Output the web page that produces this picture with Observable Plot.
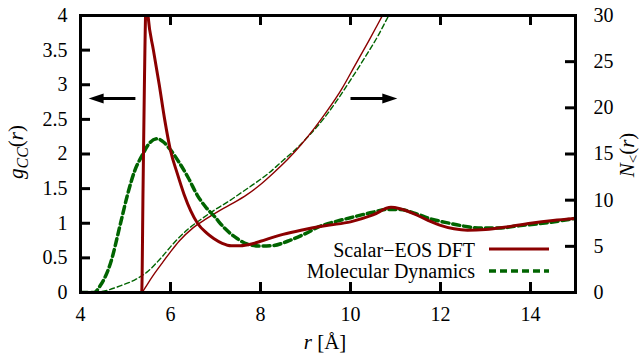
<!DOCTYPE html>
<html><head><meta charset="utf-8">
<script src="https://cdn.jsdelivr.net/npm/d3@7"></script>
<script src="https://cdn.jsdelivr.net/npm/@observablehq/plot@0.6"></script>
<style>
body{margin:0;background:#fff;}
#chart{width:644px;height:356px;}
</style></head><body><div id="chart"></div>
<script>
// ---- data ----
const gDftR = [4, 5.36, 5.39, 5.42, 5.45, 5.47, 5.5, 5.62, 5.75, 5.87, 6.0, 6.15, 6.3, 6.45, 6.6, 6.8, 6.96, 7.15, 7.35, 7.55, 7.8, 8.0, 8.5, 8.9, 9.5, 10.0, 10.5, 10.9, 11.1, 11.4, 11.7, 12.0, 12.3, 12.6, 13.0, 13.5, 14.0, 14.5, 15.0];
const gDftV = [0, 0, 1.5, 3.0, 4.1, 4.25, 4.0, 3.5, 3.0, 2.5, 2.05, 1.72, 1.42, 1.18, 1.0, 0.86, 0.78, 0.71, 0.675, 0.675, 0.7, 0.74, 0.84, 0.9, 0.97, 1.02, 1.12, 1.23, 1.21, 1.14, 1.05, 0.97, 0.92, 0.9, 0.91, 0.95, 1.0, 1.04, 1.07];

const gMdR = [4, 4.3, 4.44, 4.67, 4.89, 5.04, 5.2, 5.37, 5.55, 5.7, 5.85, 6.0, 6.2, 6.4, 6.6, 6.8, 6.96, 7.2, 7.48, 7.7, 8.0, 8.3, 8.6, 9.0, 9.3, 9.7, 10.0, 10.5, 10.8, 11.1, 11.4, 11.8, 12.2, 12.6, 12.9, 13.3, 13.7, 14.4, 15.0];
const gMdV = [0, 0, 0.1, 0.43, 1.0, 1.4, 1.75, 1.98, 2.17, 2.22, 2.17, 2.06, 1.87, 1.65, 1.4, 1.22, 1.11, 0.93, 0.78, 0.7, 0.67, 0.68, 0.74, 0.85, 0.95, 1.03, 1.08, 1.16, 1.2, 1.2, 1.15, 1.06, 1.0, 0.95, 0.93, 0.93, 0.96, 1.01, 1.07];

const nDftR = [5.37, 5.5, 5.65, 5.8, 6.0, 6.2, 6.5, 6.8, 7.1, 7.4, 7.7, 8.0, 8.3, 8.6, 8.9, 9.2, 9.5, 9.8, 10.1, 10.4, 10.7, 10.9];
const nDftV = [0, 1.0, 2.1, 3.1, 4.4, 5.6, 7.0, 8.0, 8.9, 9.7, 10.6, 11.7, 13.0, 14.4, 16.0, 17.8, 19.8, 22.0, 24.6, 27.2, 29.9, 31.7];

const nMdR = [4.3, 4.6, 4.9, 5.2, 5.5, 5.8, 6.1, 6.4, 6.7, 7.0, 7.3, 7.6, 7.9, 8.2, 8.5, 8.8, 9.1, 9.4, 9.7, 10.0, 10.3, 10.6, 10.85, 11.0];
const nMdV = [0, 0.25, 0.75, 1.35, 2.3, 3.8, 5.5, 6.9, 8.0, 9.0, 9.9, 10.9, 11.9, 13.0, 14.3, 15.6, 17.1, 18.8, 20.8, 23.0, 25.3, 27.7, 30.0, 31.3];

const xTickLabels = [4, 6, 8, 10, 12, 14];
const xTicksInner = [6, 8, 10, 12, 14];
const gTickLabels = [0, 0.5, 1, 1.5, 2, 2.5, 3, 3.5, 4];
const gTicksInner = [0.5, 1, 1.5, 2, 2.5, 3, 3.5];
const nTickLabels = [0, 5, 10, 15, 20, 25, 30];
const nTicksInner = [5, 10, 15, 20, 25];

const arrowG = 2.8;              // height of both arrows (left axis units)
const arrowLeft = [5.22, 4.18];  // from, tip
const arrowRight = [10.0, 11.04];

const seriesNames = ["Scalar\u2212EOS DFT", "Molecular Dynamics"];

// ---- layout / style ----
const W = 644, H = 356, mL = 80, mR = 69, mT = 15, mB = 64;
const fw = W - mL - mR, fh = H - mT - mB;
const G_MAX = 4, N_MAX = 30;
const n2g = n => n * G_MAX / N_MAX;
const RED = "#8b0000", GREEN = "#006400";
const FONT = "'Liberation Serif', 'Times New Roman', serif";

const zip = (rs, vs, f = v => v) => rs.map((r, i) => ({r, v: f(vs[i])}));
const gDft = zip(gDftR, gDftV);
const gMd = zip(gMdR, gMdV);
const nDft = zip(nDftR, nDftV, n2g);
const nMd = zip(nMdR, nMdV, n2g);

const headRight = {draw(ctx) { ctx.moveTo(0, 0); ctx.lineTo(-15, -5); ctx.lineTo(-15, 5); ctx.closePath(); }};
const headLeft = {draw(ctx) { ctx.moveTo(0, 0); ctx.lineTo(15, -5); ctx.lineTo(15, 5); ctx.closePath(); }};
const arrows = [
  {x1: arrowLeft[0], x2: arrowLeft[1] + 0.25, tip: arrowLeft[1], y: arrowG},
  {x1: arrowRight[0], x2: arrowRight[1] - 0.25, tip: arrowRight[1], y: arrowG}
];

const plot = Plot.plot({
  width: W, height: H,
  marginLeft: mL, marginRight: mR, marginTop: mT, marginBottom: mB,
  style: {background: "white", color: "black", fontSize: "20px"},
  x: {domain: [4, 15]},
  y: {domain: [0, G_MAX]},
  marks: [
    Plot.line(nMd, {x: "r", y: "v", stroke: GREEN, strokeWidth: 1.4, strokeDasharray: "5,3", curve: "monotone-x", clip: true}),
    Plot.line(nDft, {x: "r", y: "v", stroke: RED, strokeWidth: 1.4, curve: "monotone-x", clip: true}),
    Plot.line(gMd, {x: "r", y: "v", stroke: GREEN, strokeWidth: 3.5, strokeDasharray: "7,4", curve: "monotone-x", clip: true}),
    Plot.line(gDft, {x: "r", y: "v", stroke: RED, strokeWidth: 3, curve: "monotone-x", clip: true}),
    Plot.link(arrows, {x1: "x1", x2: "x2", y1: "y", y2: "y", stroke: "black", strokeWidth: 3}),
    Plot.dot(arrows.slice(0, 1), {x: "tip", y: "y", symbol: headLeft, fill: "black", stroke: "none"}),
    Plot.dot(arrows.slice(1), {x: "tip", y: "y", symbol: headRight, fill: "black", stroke: "none"}),
    Plot.tickX(xTicksInner, {x: d => d, insetTop: fh - 10, stroke: "black", strokeWidth: 3}),
    Plot.tickX(xTicksInner, {x: d => d, insetBottom: fh - 10, stroke: "black", strokeWidth: 3}),
    Plot.tickY(gTicksInner, {y: d => d, insetRight: fw - 10, stroke: "black", strokeWidth: 3}),
    Plot.tickY(nTicksInner.map(n2g), {y: d => d, insetLeft: fw - 10, stroke: "black", strokeWidth: 3}),
    Plot.axisX(xTickLabels, {anchor: "bottom", tickSize: 0, tickPadding: 14, label: null, fontSize: 20, tickFormat: d => String(d)}),
    Plot.axisY(gTickLabels, {anchor: "left", tickSize: 0, tickPadding: 13, label: null, fontSize: 20, tickFormat: d => String(d)}),
    Plot.axisY(nTickLabels.map(n2g), {anchor: "right", tickSize: 0, tickPadding: 18, label: null, fontSize: 20,
      tickFormat: v => String(Math.round(v * N_MAX / G_MAX))}),
    Plot.frame({stroke: "black", strokeWidth: 3})
  ]
});

const svg = d3.select(plot);

// axis titles
const xl = svg.append("text").attr("x", 325).attr("y", 349).attr("text-anchor", "middle")
  .attr("font-size", 21).attr("fill", "black");
xl.append("tspan").attr("font-style", "italic").text("r");
xl.append("tspan").text(" [Å]");

const yl = svg.append("text").attr("transform", "translate(23,152) rotate(-90)")
  .attr("text-anchor", "middle").attr("font-size", 21).attr("fill", "black");
yl.append("tspan").attr("font-style", "italic").text("g");
yl.append("tspan").attr("font-style", "italic").attr("font-size", 16).attr("dy", 5).text("CC");
yl.append("tspan").attr("dy", -5).text("(");
yl.append("tspan").attr("font-style", "italic").text("r");
yl.append("tspan").text(")");

const yr = svg.append("text").attr("transform", "translate(634,155) rotate(-90)")
  .attr("text-anchor", "middle").attr("font-size", 21).attr("fill", "black");
yr.append("tspan").attr("font-style", "italic").text("N");
yr.append("tspan").attr("font-size", 15).attr("dy", 4).text("<");
yr.append("tspan").attr("dy", -4).text("(");
yr.append("tspan").attr("font-style", "italic").text("r");
yr.append("tspan").text(")");

// legend
const leg = svg.append("g").attr("font-size", 20).attr("fill", "black");
leg.append("text").attr("x", 475).attr("y", 257).attr("text-anchor", "end").text(seriesNames[0]);
leg.append("text").attr("x", 475).attr("y", 278).attr("text-anchor", "end").text(seriesNames[1]);
leg.append("line").attr("x1", 489).attr("x2", 549).attr("y1", 249).attr("y2", 249)
  .attr("stroke", RED).attr("stroke-width", 3);
leg.append("line").attr("x1", 489).attr("x2", 549).attr("y1", 271).attr("y2", 271)
  .attr("stroke", GREEN).attr("stroke-width", 3.5).attr("stroke-dasharray", "7,4");

// force the serif face with inline !important styles
plot.style.setProperty("font-family", FONT, "important");
plot.querySelectorAll("text, tspan").forEach(el => el.style.setProperty("font-family", FONT, "important"));

document.getElementById("chart").appendChild(plot);
</script>
</body></html>
